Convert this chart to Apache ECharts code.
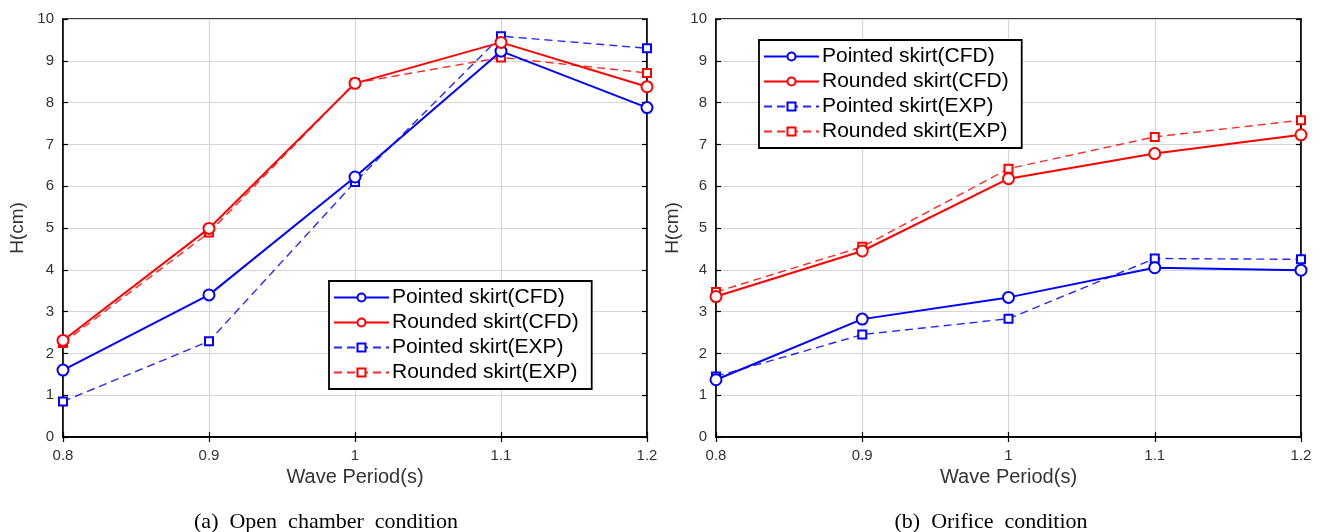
<!DOCTYPE html>
<html>
<head>
<meta charset="utf-8">
<script src="https://cdn.jsdelivr.net/npm/echarts@6/dist/echarts.min.js"></script>
<style>
  html, body { margin: 0; padding: 0; background: #fff; }
  #chart { width: 1323px; height: 532px; }
</style>
</head>
<body>
<div id="chart"></div>
<script>
// Wave periods (s) shared by both panels
const periods = [0.8, 0.9, 1.0, 1.1, 1.2];
const xTicks = [0.8, 0.9, 1.0, 1.1, 1.2];
const yTicks = [0, 1, 2, 3, 4, 5, 6, 7, 8, 9, 10];

// (a) Open chamber condition, H (cm)
const openPointedCFD = [1.6, 3.4, 6.22, 9.23, 7.88];
const openRoundedCFD = [2.31, 4.99, 8.46, 9.44, 8.38];
const openPointedEXP = [0.85, 2.29, 6.1, 9.59, 9.3];
const openRoundedEXP = [2.25, 4.89, 8.47, 9.08, 8.71];

// (b) Orifice condition, H (cm)
const orificePointedCFD = [1.37, 2.82, 3.34, 4.05, 3.99];
const orificeRoundedCFD = [3.36, 4.45, 6.18, 6.78, 7.23];
const orificePointedEXP = [1.45, 2.45, 2.83, 4.27, 4.25];
const orificeRoundedEXP = [3.47, 4.55, 6.42, 7.18, 7.58];

const seriesNames = ['Pointed skirt(CFD)', 'Rounded skirt(CFD)', 'Pointed skirt(EXP)', 'Rounded skirt(EXP)'];
const captions = ['(a)  Open  chamber  condition', '(b)  Orifice  condition'];
const xName = 'Wave Period(s)';
const yName = 'H(cm)';

const BLUE = '#0000ff';
const RED = '#ff0000';
const SANS = '"Liberation Sans", Arial, sans-serif';
const SERIF = '"Liberation Serif", "Times New Roman", serif';

const pairs = vals => periods.map((p, i) => [p, vals[i]]);

function makeSeries(gridIdx, vals, name) {
  const isExp = name.indexOf('EXP') >= 0;
  const color = name.indexOf('Pointed') === 0 ? BLUE : RED;
  return {
    type: 'line',
    name: name,
    xAxisIndex: gridIdx * 2,
    yAxisIndex: gridIdx * 2,
    data: pairs(vals),
    symbol: isExp ? 'emptyRect' : 'emptyCircle',
    symbolSize: isExp ? 8 : 11,
    color: color,
    lineStyle: { color: color, width: isExp ? 1.4 : 2, type: isExp ? [8, 5] : 'solid', opacity: isExp ? 0.85 : 1 },
    itemStyle: { color: color, borderColor: color, borderWidth: isExp ? 1.6 : 1.8 },
    z: isExp ? 3 : 4,
    animation: false
  };
}

const grids = [
  { left: 63, top: 19, width: 584, height: 418, show: true, borderColor: '#000', borderWidth: 1.5, backgroundColor: 'transparent' },
  { left: 716, top: 19, width: 585, height: 418, show: true, borderColor: '#000', borderWidth: 1.5, backgroundColor: 'transparent' }
];

const xAxes = [];
const yAxes = [];
[0, 1].forEach(g => {
  xAxes.push({
    type: 'value', gridIndex: g, min: xTicks[0], max: xTicks[xTicks.length - 1], interval: 0.1,
    name: xName, nameLocation: 'middle', nameGap: 26,
    nameTextStyle: { fontFamily: SANS, fontSize: 20, color: '#333' },
    axisLine: { show: true, lineStyle: { color: '#000', width: 1.5 } },
    axisTick: { show: true, inside: true, length: 5, lineStyle: { color: '#000', width: 1.2 } },
    axisLabel: { fontFamily: SANS, fontSize: 15, color: '#333', margin: 11,
      formatter: v => String(Math.round(v * 10) / 10) },
    splitLine: { show: true, lineStyle: { color: '#d6d6d6', width: 1.2 } }
  });
  xAxes.push({
    type: 'value', gridIndex: g, position: 'top', min: xTicks[0], max: xTicks[xTicks.length - 1], interval: 0.1,
    axisLine: { show: true, lineStyle: { color: '#000', width: 1.5 } },
    axisTick: { show: true, inside: true, length: 5, lineStyle: { color: '#000', width: 1.2 } },
    axisLabel: { show: false }, splitLine: { show: false }
  });
  yAxes.push({
    type: 'value', gridIndex: g, min: yTicks[0], max: yTicks[yTicks.length - 1], interval: 1,
    name: yName, nameLocation: 'middle', nameGap: g === 0 ? 36 : 34, nameRotate: 90,
    nameTextStyle: { fontFamily: SANS, fontSize: 19, color: '#333' },
    axisLine: { show: true, lineStyle: { color: '#000', width: 1.5 } },
    axisTick: { show: true, inside: true, length: 5, lineStyle: { color: '#000', width: 1.2 } },
    axisLabel: { fontFamily: SANS, fontSize: 15, color: '#333', margin: 9 },
    splitLine: { show: true, lineStyle: { color: '#d6d6d6', width: 1.2 } }
  });
  yAxes.push({
    type: 'value', gridIndex: g, position: 'right', min: yTicks[0], max: yTicks[yTicks.length - 1], interval: 1,
    axisLine: { show: true, lineStyle: { color: '#000', width: 1.5 } },
    axisTick: { show: true, inside: true, length: 5, lineStyle: { color: '#000', width: 1.2 } },
    axisLabel: { show: false }, splitLine: { show: false }
  });
});

const legendBase = {
  orient: 'vertical',
  data: seriesNames,
  selectedMode: false,
  itemWidth: 55,
  itemHeight: 10,
  itemGap: 4,
  padding: [6, 13, 6, 4],
  borderColor: '#000',
  borderWidth: 1.8,
  borderRadius: 0,
  backgroundColor: '#fff',
  textStyle: { fontFamily: SANS, fontSize: 21, lineHeight: 18, color: '#000', padding: [0, 0, 0, -2] }
};

const option = {
  backgroundColor: '#fff',
  animation: false,
  grid: grids,
  xAxis: xAxes,
  yAxis: yAxes,
  legend: [
    Object.assign({}, legendBase, { left: 329, top: 281 }),
    Object.assign({}, legendBase, { left: 759, top: 40 })
  ],
  title: [
    { text: captions[0], left: 321, top: 506, textAlign: 'center',
      textStyle: { fontFamily: SERIF, fontSize: 22, fontWeight: 'normal', color: '#000' } },
    { text: captions[1], left: 986, top: 506, textAlign: 'center',
      textStyle: { fontFamily: SERIF, fontSize: 22, fontWeight: 'normal', color: '#000' } }
  ],
  series: [
    makeSeries(0, openPointedCFD, seriesNames[0]),
    makeSeries(0, openRoundedCFD, seriesNames[1]),
    makeSeries(0, openPointedEXP, seriesNames[2]),
    makeSeries(0, openRoundedEXP, seriesNames[3]),
    makeSeries(1, orificePointedCFD, seriesNames[0]),
    makeSeries(1, orificeRoundedCFD, seriesNames[1]),
    makeSeries(1, orificePointedEXP, seriesNames[2]),
    makeSeries(1, orificeRoundedEXP, seriesNames[3])
  ]
};

const chart = echarts.init(document.getElementById('chart'), null, { renderer: 'canvas' });
chart.setOption(option);
</script>
</body>
</html>
